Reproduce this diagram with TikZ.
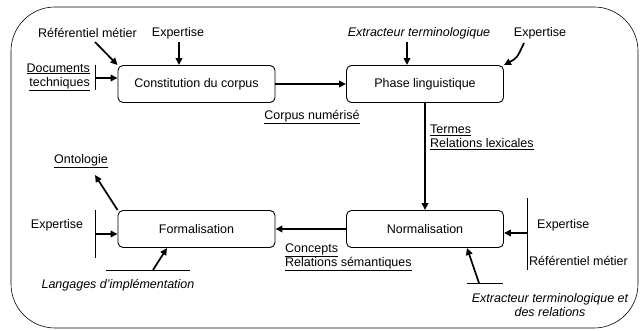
\documentclass[tikz,border=0pt]{standalone}
\usepackage{fontspec}
\setmainfont{Liberation Sans}
\usetikzlibrary{arrows.meta}
\begin{document}
\begin{tikzpicture}[x=1pt,y=-1pt,
  every node/.style={inner sep=0pt,font=\fontsize{12.5}{15}\selectfont},
  procbox/.style={draw,line width=0.9pt,rounded corners=5pt,minimum width=157pt,minimum height=37pt},
  flow/.style={line width=1.7pt,-{Triangle[length=7pt,width=6.5pt]}},
  bar/.style={line width=0.9pt},
  lab/.style={},
  ilab/.style={font=\fontsize{12.5}{15}\selectfont\itshape}]
\useasboundingbox (0,0) rectangle (640,331);
\draw[line width=0.6pt,rounded corners=44pt] (11,7) rectangle (638,328);

% process boxes
\node[procbox] (c) at (196.5,84) {Constitution du corpus};
\node[procbox] (p) at (425,84) {Phase linguistique};
\node[procbox] (f) at (196.5,229) {Formalisation};
\node[procbox] (n) at (425,229) {Normalisation};

% top-left inputs
\node[lab] (rm1) at (87.5,33) {Référentiel métier};
\node[lab] (ex1) at (178,33) {Expertise};
\node[lab,align=right,anchor=east] (doc) at (90,77) {\underline{Documents}\\[-1pt]\underline{techniques}};
\coordinate (rm1s) at (95,42);
\coordinate (ex1s) at (179,42);
\coordinate (b1t) at (95,65);
\coordinate (b1b) at (95,90);
\coordinate (b1m) at (95,78);
\draw[flow] (rm1s) -- (c.north west);
\draw[flow] (ex1s) -- (ex1s |- c.north);
\draw[bar] (b1t) -- (b1b);
\draw[flow] (b1m) -- (b1m -| c.west);

% constitution -> phase
\draw[flow] (c.east) -- (p.west);
\node[lab] (cn) at (312,117) {\underline{Corpus numérisé}};

% phase inputs
\node[ilab] (et1) at (419,33) {Extracteur terminologique};
\node[lab] (ex2) at (540,33) {Expertise};
\coordinate (et1s) at (407,42);
\coordinate (ex2s) at (524,43);
\draw[flow] (et1s) -- (et1s |- p.north);
\draw[flow] (ex2s) .. controls (517,58) .. (p.north east);

% phase -> normalisation
\draw[flow] (p.south) -- (n.north);
\node[lab,align=left,anchor=west] (trl) at (430,137) {\underline{Termes}\\[-1pt]\underline{Relations lexicales}};

% normalisation inputs
\coordinate (b2t) at (527,198);
\coordinate (b2b) at (527,270);
\coordinate (b2m) at (527,233);
\draw[bar] (b2t) -- (b2b);
\draw[flow] (b2m) -- (b2m -| n.east);
\node[lab,anchor=west] (ex3) at (537,225) {Expertise};
\node[lab,anchor=west] (rm2) at (529,261) {Référentiel métier};
\coordinate (l2a) at (467,283);
\coordinate (l2b) at (503,283);
\coordinate (l2m) at (479,283);
\coordinate (n2t) at (467,248);
\draw[bar] (l2a) -- (l2b);
\draw[flow] (l2m) -- (n2t);
\node[ilab,align=center] (et2) at (550,305.5) {Extracteur terminologique et\\[-1pt]des relations};

% normalisation -> formalisation
\draw[flow] (n.west) -- (f.east);
\node[lab,align=left,anchor=west] (crs) at (285,257) {\underline{Concepts}\\[-1pt]\underline{Relations sémantiques}};

% formalisation inputs / outputs
\coordinate (b3t) at (95,210);
\coordinate (b3b) at (95,258);
\coordinate (b3m) at (95,234);
\draw[bar] (b3t) -- (b3b);
\draw[flow] (b3m) -- (b3m -| f.west);
\node[lab] (ex4) at (57,225) {Expertise};
\coordinate (l3a) at (106,270);
\coordinate (l3b) at (190,270);
\coordinate (l3m) at (153,270);
\coordinate (f3b) at (167,248);
\draw[bar] (l3a) -- (l3b);
\draw[flow] (l3m) -- (f3b);
\node[ilab] (lang) at (118,285) {Langages d’implémentation};
\node[lab] (onto) at (81,161) {\underline{Ontologie}};
\coordinate (ontoa) at (95,175);
\draw[flow] (f.north west) -- (ontoa);
\end{tikzpicture}
\end{document}
